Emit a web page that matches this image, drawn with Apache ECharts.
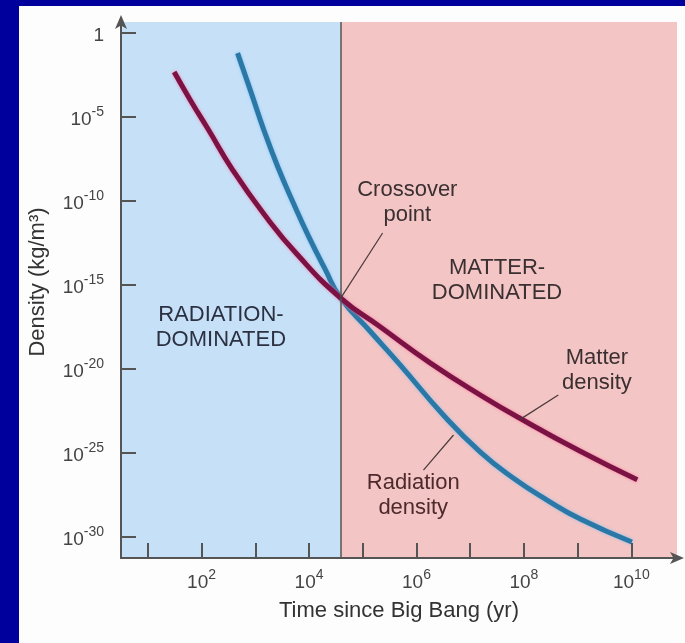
<!DOCTYPE html>
<html>
<head>
<meta charset="utf-8">
<title>Density vs time since Big Bang</title>
<script src="https://cdn.jsdelivr.net/npm/echarts@6/dist/echarts.min.js"></script>
<style>
  html, body { margin: 0; padding: 0; background: #00009c; }
  #chart { position: absolute; left: 19px; top: 6px; width: 666px; height: 637px; background: #fdfdfd; }
</style>
</head>
<body>
<div id="chart"></div>
<script>
// values are log10 of time (yr) and log10 of density (kg/m^3)
const matterLogT = [1.49, 1.80, 2.12, 2.58, 3.16, 3.79, 4.59, 5.33, 6.26, 7.19, 7.99, 9.05, 10.11];
const matterLogRho = [-2.33, -4.05, -5.72, -8.16, -10.78, -13.22, -15.78, -17.5, -19.65, -21.55, -23.05, -24.9, -26.6];
const radiationLogT = [2.67, 2.92, 3.16, 3.42, 3.70, 3.99, 4.29, 4.59, 5.15, 5.70, 6.50, 7.19, 7.80, 8.43, 9.05, 10.01];
const radiationLogRho = [-1.2, -3.52, -5.78, -7.98, -10.06, -12.09, -14.0, -15.78, -17.8, -19.77, -22.74, -24.95, -26.49, -27.8, -28.93, -30.3];
const crossover = [4.59, -15.78];

const xTickExps = [1, 2, 3, 4, 5, 6, 7, 8, 9, 10];
const xLabelExps = [2, 4, 6, 8, 10];
const yTickExps = [0, -5, -10, -15, -20, -25, -30];

const FONT = "'Liberation Sans', Arial, sans-serif";
const TEXT = '#3a2f31';

function pairs(xs, ys) {
  return xs.map((x, i) => [x, ys[i]]);
}

function powLabel(v) {
  if (v === 0) return '{b|1}';
  return '{b|10}{s|' + v + '}';
}

const labelRich = {
  b: { fontFamily: FONT, fontSize: 19, color: '#444', lineHeight: 24, verticalAlign: 'bottom' },
  s: { fontFamily: FONT, fontSize: 14, color: '#444', lineHeight: 24, verticalAlign: 'top' }
};

function note(name, coord, color) {
  return { name: name, coord: coord, label: { color: color || TEXT } };
}

function leader(a, b) {
  return [{ coord: a }, { coord: b }];
}

const axisLine = {
  onZero: false,
  lineStyle: { color: '#555', width: 2 },
  symbol: ['none', 'arrow'],
  symbolSize: [9, 14],
  symbolOffset: [0, 7]
};

const chart = echarts.init(document.getElementById('chart'));
chart.setOption({
  animation: false,
  grid: { left: 101, top: 16, right: 8, bottom: 85 },
  xAxis: {
    type: 'value',
    z: 6,
    min: 0.5,
    max: 10.85,
    name: 'Time since Big Bang (yr)',
    nameLocation: 'middle',
    nameGap: 42,
    nameTextStyle: { fontFamily: FONT, fontSize: 22, color: '#333' },
    axisLine: axisLine,
    axisTick: { inside: true, length: 15, customValues: xTickExps, lineStyle: { color: '#555', width: 2 } },
    axisLabel: { customValues: xLabelExps, formatter: powLabel, rich: labelRich, margin: 10 },
    splitLine: { show: false }
  },
  yAxis: {
    type: 'value',
    z: 6,
    min: -31.25,
    max: 0.65,
    name: 'Density (kg/m\u00b3)',
    nameLocation: 'middle',
    nameGap: 72,
    nameTextStyle: { fontFamily: FONT, fontSize: 22, color: '#333', padding: [0, 0, 0, 16] },
    axisLine: axisLine,
    axisTick: { inside: true, length: 15, customValues: yTickExps, lineStyle: { color: '#555', width: 2 } },
    axisLabel: { customValues: yTickExps, formatter: powLabel, rich: labelRich, margin: 17 },
    splitLine: { show: false }
  },
  series: [
    {
      name: 'Radiation density',
      type: 'line',
      data: pairs(radiationLogT, radiationLogRho),
      smooth: 0.5,
      showSymbol: false,
      z: 3,
      lineStyle: { color: '#2b78a6', width: 5, shadowColor: 'rgba(120,190,245,0.9)', shadowBlur: 3 },
      markArea: {
        silent: true,
        data: [
          [{ xAxis: 0.5, itemStyle: { color: '#c6e0f7' } }, { xAxis: crossover[0] }],
          [{ xAxis: crossover[0], itemStyle: { color: '#f3c5c4' } }, { xAxis: 10.85 }]
        ]
      },
      markLine: {
        silent: true,
        symbol: ['none', 'none'],
        label: { show: false },
        lineStyle: { color: '#555', width: 1.5, type: 'solid' },
        data: [{ xAxis: crossover[0] }]
      }
    },
    {
      name: 'Matter density',
      type: 'line',
      data: pairs(matterLogT, matterLogRho),
      smooth: 0.5,
      showSymbol: false,
      z: 4,
      lineStyle: { color: '#7a1244', width: 5, shadowColor: 'rgba(255,110,160,0.9)', shadowBlur: 3 },
      markLine: {
        silent: true,
        symbol: ['none', 'none'],
        label: { show: false },
        lineStyle: { color: '#4a3a3a', width: 1.2, type: 'solid' },
        data: [
          leader(crossover, [5.37, -11.91]),
          leader([7.93, -23.0], [8.64, -21.55]),
          leader([6.69, -23.93], [6.13, -26.02])
        ]
      },
      markPoint: {
        silent: true,
        symbol: 'circle',
        symbolSize: 0,
        label: {
          show: true,
          position: 'inside',
          formatter: p => p.name,
          fontFamily: FONT,
          fontSize: 22,
          lineHeight: 25,
          align: 'center'
        },
        data: [
          note('RADIATION-\nDOMINATED', [2.36, -17.5], '#2c3142'),
          note('MATTER-\nDOMINATED', [7.5, -14.71]),
          note('Crossover\npoint', [5.83, -10.1]),
          note('Matter\ndensity', [9.36, -20.06]),
          note('Radiation\ndensity', [5.94, -27.5], '#4e2a2c')
        ]
      }
    }
  ]
});
</script>
</body>
</html>
